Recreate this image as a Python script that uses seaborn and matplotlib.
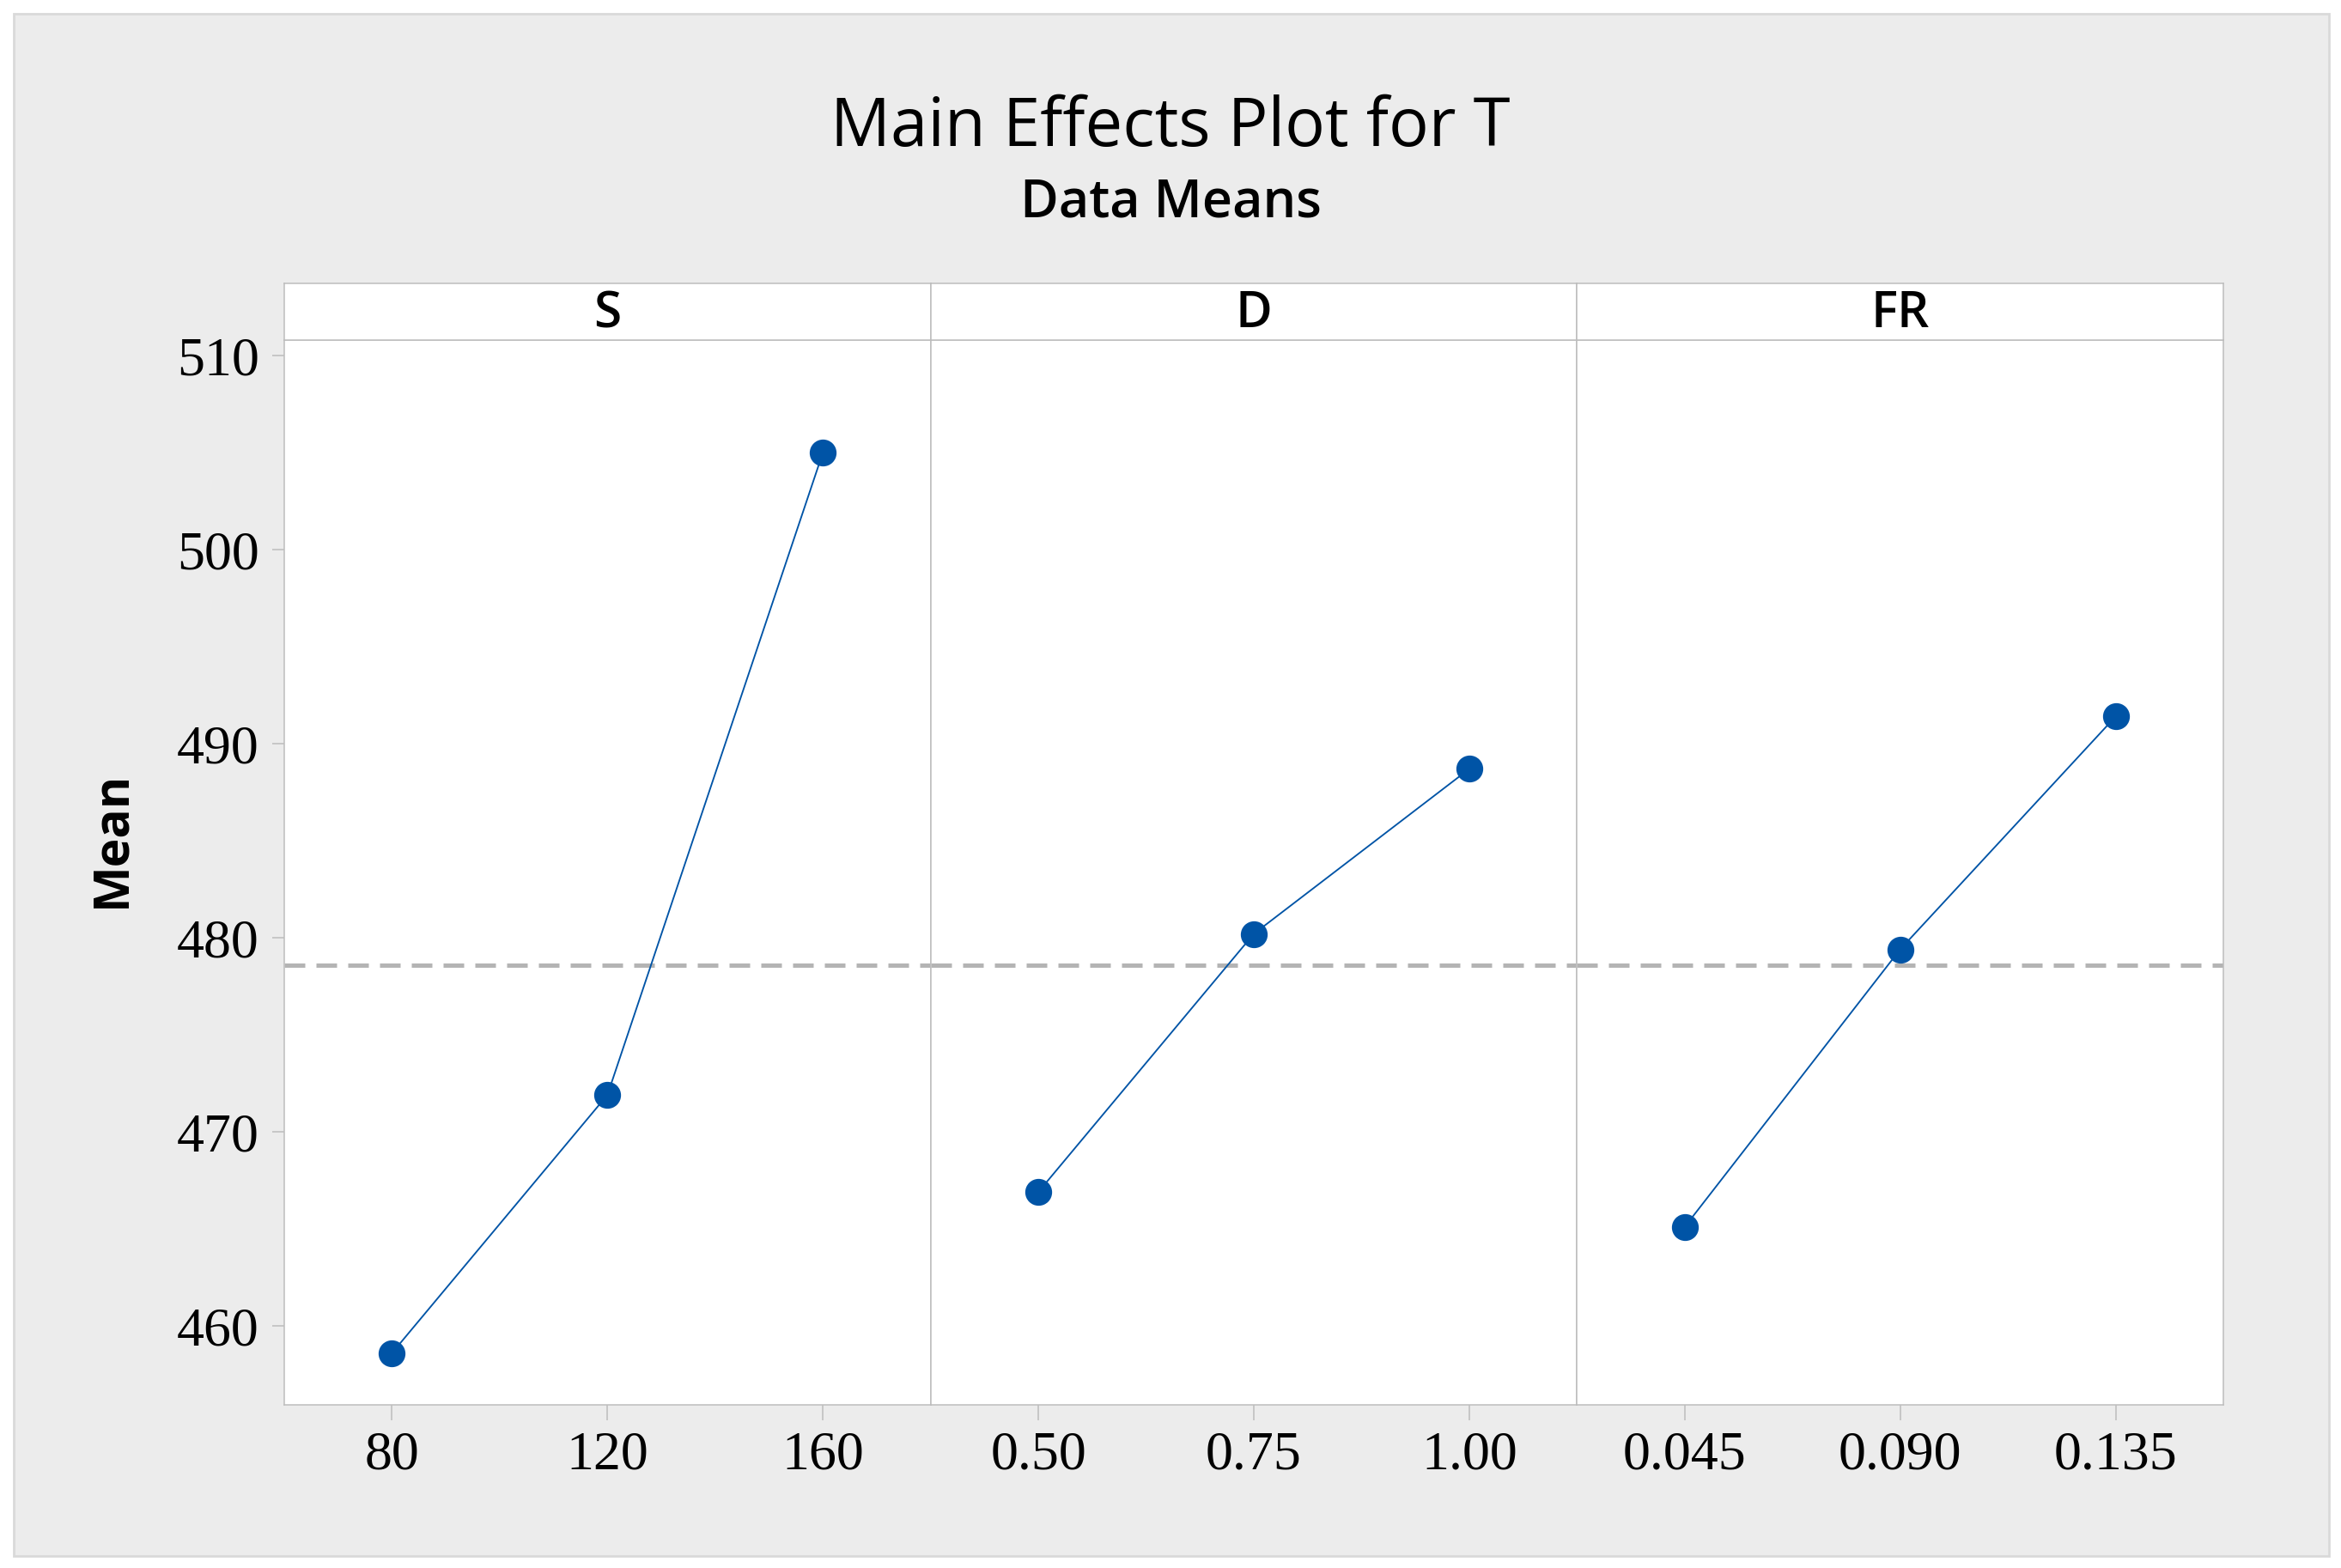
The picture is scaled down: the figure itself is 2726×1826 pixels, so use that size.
import matplotlib
matplotlib.use("Agg")
import matplotlib.pyplot as plt
from matplotlib.patches import Rectangle
import seaborn as sns
import pandas as pd

# valori (medie per livello)
factors = ["S", "D", "FR"]
s_levels = ["80", "120", "160"]
s_means = [458.6, 471.9, 505.0]
d_levels = ["0.50", "0.75", "1.00"]
d_means = [466.9, 480.2, 488.7]
fr_levels = ["0.045", "0.090", "0.135"]
fr_means = [465.1, 479.4, 491.4]
grand_mean = 478.6
y_ticks = [460, 470, 480, 490, 500, 510]

levels = {"S": s_levels, "D": d_levels, "FR": fr_levels}

df = pd.DataFrame({
    "Factor": ["S"] * 3 + ["D"] * 3 + ["FR"] * 3,
    "Level": s_levels + d_levels + fr_levels,
    "Mean": s_means + d_means + fr_means,
})

sns.set_style("white")
plt.rcParams["font.family"] = ["Open Sans", "DejaVu Sans"]

BLUE = "#0054a6"
GRID = "#bdbdbd"
W, H = 2726, 1826

fig = plt.figure(figsize=(W / 100, H / 100), dpi=100)
fig.patch.set_facecolor("white")

# cornice grigia (sotto a tutto)
fig.patches.append(Rectangle((16 / W, 14 / H), (2712 - 16) / W, (1812 - 16) / H,
                             transform=fig.transFigure, facecolor="#ececec",
                             edgecolor="#d9d9d9", linewidth=2, zorder=-10))

fig.text(0.5, 0.907, "Main Effects Plot for T", ha="center", va="baseline",
         fontsize=56, color="black")
fig.text(0.5, 0.8615, "Data Means", ha="center", va="baseline",
         fontsize=44, fontweight="semibold", color="black")
fig.text(0.048, 0.465, "Mean", ha="center", va="center", rotation=90,
         fontsize=41, fontweight="bold", color="black")

left0 = 331
panel_w = (2589 - 331) / 3
bottom = (H - 1636) / H
height = (1636 - 396) / H
strip_b = (H - 396) / H
strip_h = 66 / H

for i, f in enumerate(factors):
    x0 = (left0 + i * panel_w) / W
    ax = fig.add_axes([x0, bottom, panel_w / W, height])
    sub = df[df["Factor"] == f]
    sns.pointplot(data=sub, x="Level", y="Mean", order=levels[f], color=BLUE,
                  errorbar=None, markersize=21.5, linewidth=1.35, ax=ax)
    ax.axhline(grand_mean, color="#b4b4b4", lw=3.6, dashes=(4.8, 2.6), zorder=1)
    ax.set_xlim(-0.5, 2.5)
    ax.set_ylim(455.93, 510.8)
    ax.set_xlabel("")
    ax.set_ylabel("")
    ax.set_facecolor("white")
    for sp in ax.spines.values():
        sp.set_color(GRID)
        sp.set_linewidth(1.1)
    ax.set_xticks(range(3))
    ax.set_xticklabels(levels[f], fontfamily="Liberation Serif", fontsize=46, color="black")
    ax.tick_params(axis="x", length=13, width=1.1, color=GRID, pad=9, bottom=True)
    if i == 0:
        ax.set_yticks(y_ticks)
        ax.set_yticklabels([str(t) for t in y_ticks], fontfamily="Liberation Serif",
                           fontsize=46, color="black")
        ax.tick_params(axis="y", length=10, width=1.1, color=GRID, pad=11, left=True)
    else:
        ax.set_yticks(y_ticks)
        ax.tick_params(axis="y", left=False, labelleft=False)

    # intestazione del pannello
    axs = fig.add_axes([x0, strip_b, panel_w / W, strip_h])
    axs.set_facecolor("white")
    axs.set_xticks([])
    axs.set_yticks([])
    for sp in axs.spines.values():
        sp.set_color(GRID)
        sp.set_linewidth(1.1)
    axs.text(0.5, 0.45, f, transform=axs.transAxes, ha="center", va="center",
             fontsize=42, fontweight="semibold", color="black")

fig.savefig("out.png", dpi=100)
